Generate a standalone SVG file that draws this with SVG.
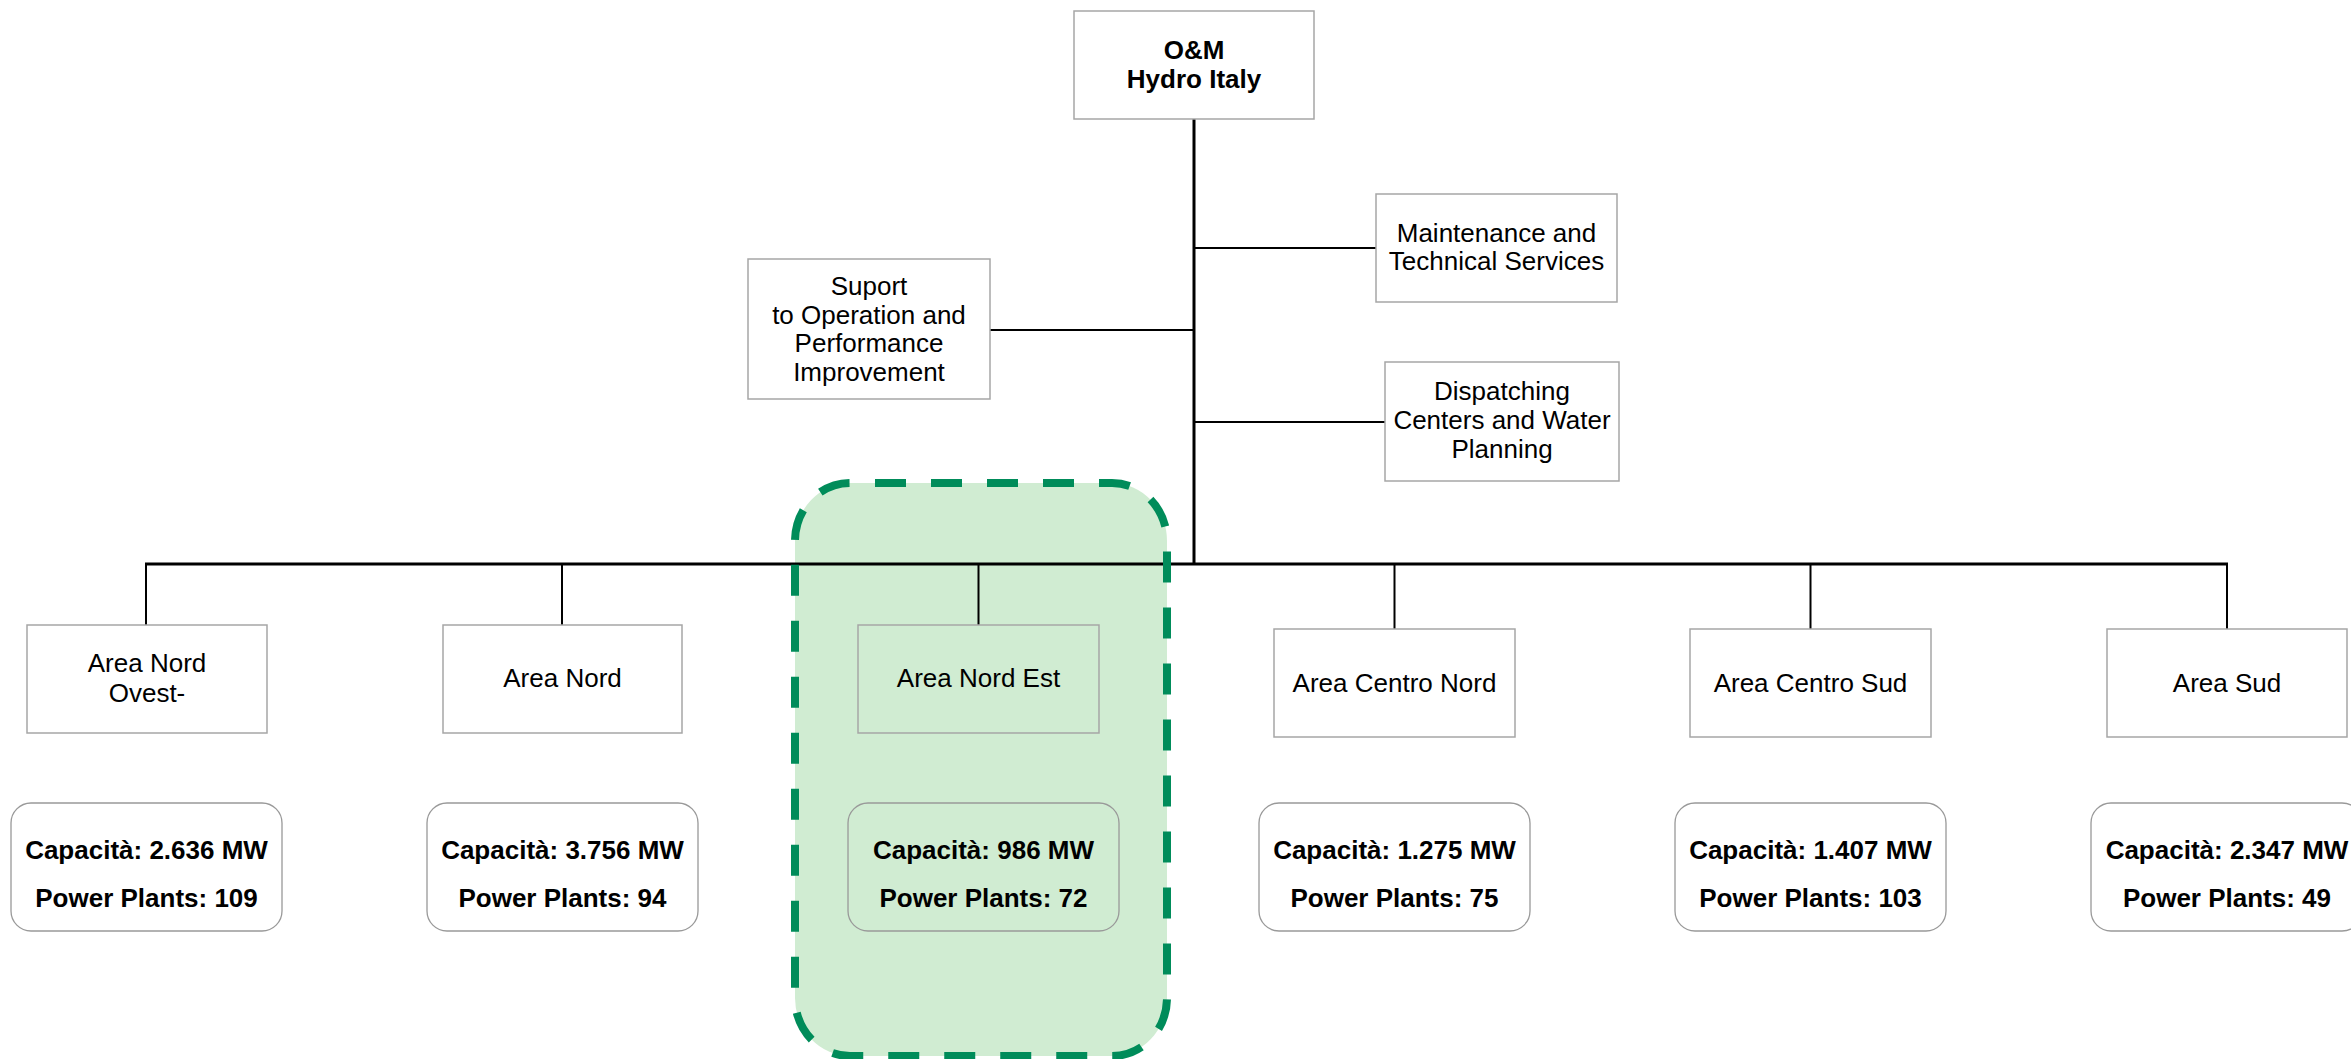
<svg xmlns="http://www.w3.org/2000/svg" width="2351" height="1059" viewBox="0 0 2351 1059">
<style>
text{font-family:"Liberation Sans",Arial,sans-serif;font-size:26px;fill:#000;text-anchor:middle}
.b{font-weight:bold}
.box{fill:none;stroke:#a6a6a6;stroke-width:1.5}
.cap{fill:none;stroke:#999;stroke-width:1.3}
.ln{stroke:#000;stroke-width:2;fill:none}
.lnt{stroke:#000;stroke-width:3;fill:none}
</style>
<rect width="2351" height="1059" fill="#fff"/>
<g id="highlight">
<rect x="795" y="483" width="372" height="573" rx="55" ry="58" fill="#d0ecd2"/>
</g>
<g id="connectors">
<line class="lnt" x1="1194" y1="119" x2="1194" y2="565"/>
<line class="ln" x1="1194" y1="248" x2="1376" y2="248"/>
<line class="ln" x1="990" y1="330" x2="1194" y2="330"/>
<line class="ln" x1="1194" y1="422" x2="1385" y2="422"/>
<line class="lnt" x1="145" y1="564" x2="2228" y2="564"/>
<line class="ln" x1="146" y1="564" x2="146" y2="625"/>
<line class="ln" x1="562" y1="564" x2="562" y2="625"/>
<line class="ln" x1="978.5" y1="564" x2="978.5" y2="625"/>
<line class="ln" x1="1394.5" y1="564" x2="1394.5" y2="629"/>
<line class="ln" x1="1810.5" y1="564" x2="1810.5" y2="629"/>
<line class="ln" x1="2227" y1="564" x2="2227" y2="629"/>
</g>
<g id="highlight-border">
<rect x="795" y="483" width="372" height="573" rx="55" ry="58" fill="none" stroke="#008c5a" stroke-width="8" stroke-dasharray="31 25" stroke-dashoffset="-25"/>
</g>
<g id="om-hydro-italy">
<rect class="box" x="1074" y="11" width="240" height="108"/>
<text class="b" x="1194" y="59">O&amp;M</text>
<text class="b" x="1194" y="88">Hydro Italy</text>
</g>
<g id="maintenance">
<rect class="box" x="1376" y="194" width="241" height="108"/>
<text x="1496.5" y="242">Maintenance and</text>
<text x="1496.5" y="270">Technical Services</text>
</g>
<g id="suport">
<rect class="box" x="748" y="259" width="242" height="140"/>
<text x="869" y="295">Suport</text>
<text x="869" y="324">to Operation and</text>
<text x="869" y="352">Performance</text>
<text x="869" y="381">Improvement</text>
</g>
<g id="dispatching">
<rect class="box" x="1385" y="362" width="234" height="119"/>
<text x="1502" y="400">Dispatching</text>
<text x="1502" y="429">Centers and Water</text>
<text x="1502" y="458">Planning</text>
</g>
<g id="area-nord-ovest">
<rect class="box" x="27" y="625" width="240" height="108"/>
<text x="147" y="672">Area Nord</text>
<text x="147" y="702">Ovest-</text>
</g>
<g id="area-nord">
<rect class="box" x="443" y="625" width="239" height="108"/>
<text x="562.5" y="687">Area Nord</text>
</g>
<g id="area-nord-est">
<rect class="box" x="858" y="625" width="241" height="108"/>
<text x="978.5" y="687">Area Nord Est</text>
</g>
<g id="area-centro-nord">
<rect class="box" x="1274" y="629" width="241" height="108"/>
<text x="1394.5" y="692">Area Centro Nord</text>
</g>
<g id="area-centro-sud">
<rect class="box" x="1690" y="629" width="241" height="108"/>
<text x="1810.5" y="692">Area Centro Sud</text>
</g>
<g id="area-sud">
<rect class="box" x="2107" y="629" width="240" height="108"/>
<text x="2227" y="692">Area Sud</text>
</g>
<g id="cap-nord-ovest">
<rect class="cap" x="11" y="803" width="271" height="128" rx="20"/>
<text class="b" x="146.5" y="859">Capacità: 2.636 MW</text>
<text class="b" x="146.5" y="907">Power Plants: 109</text>
</g>
<g id="cap-nord">
<rect class="cap" x="427" y="803" width="271" height="128" rx="20"/>
<text class="b" x="562.5" y="859">Capacità: 3.756 MW</text>
<text class="b" x="562.5" y="907">Power Plants: 94</text>
</g>
<g id="cap-nord-est">
<rect class="cap" x="848" y="803" width="271" height="128" rx="20"/>
<text class="b" x="983.5" y="859">Capacità: 986 MW</text>
<text class="b" x="983.5" y="907">Power Plants: 72</text>
</g>
<g id="cap-centro-nord">
<rect class="cap" x="1259" y="803" width="271" height="128" rx="20"/>
<text class="b" x="1394.5" y="859">Capacità: 1.275 MW</text>
<text class="b" x="1394.5" y="907">Power Plants: 75</text>
</g>
<g id="cap-centro-sud">
<rect class="cap" x="1675" y="803" width="271" height="128" rx="20"/>
<text class="b" x="1810.5" y="859">Capacità: 1.407 MW</text>
<text class="b" x="1810.5" y="907">Power Plants: 103</text>
</g>
<g id="cap-sud">
<rect class="cap" x="2091" y="803" width="271" height="128" rx="20"/>
<text class="b" x="2227" y="859">Capacità: 2.347 MW</text>
<text class="b" x="2227" y="907">Power Plants: 49</text>
</g>
</svg>
